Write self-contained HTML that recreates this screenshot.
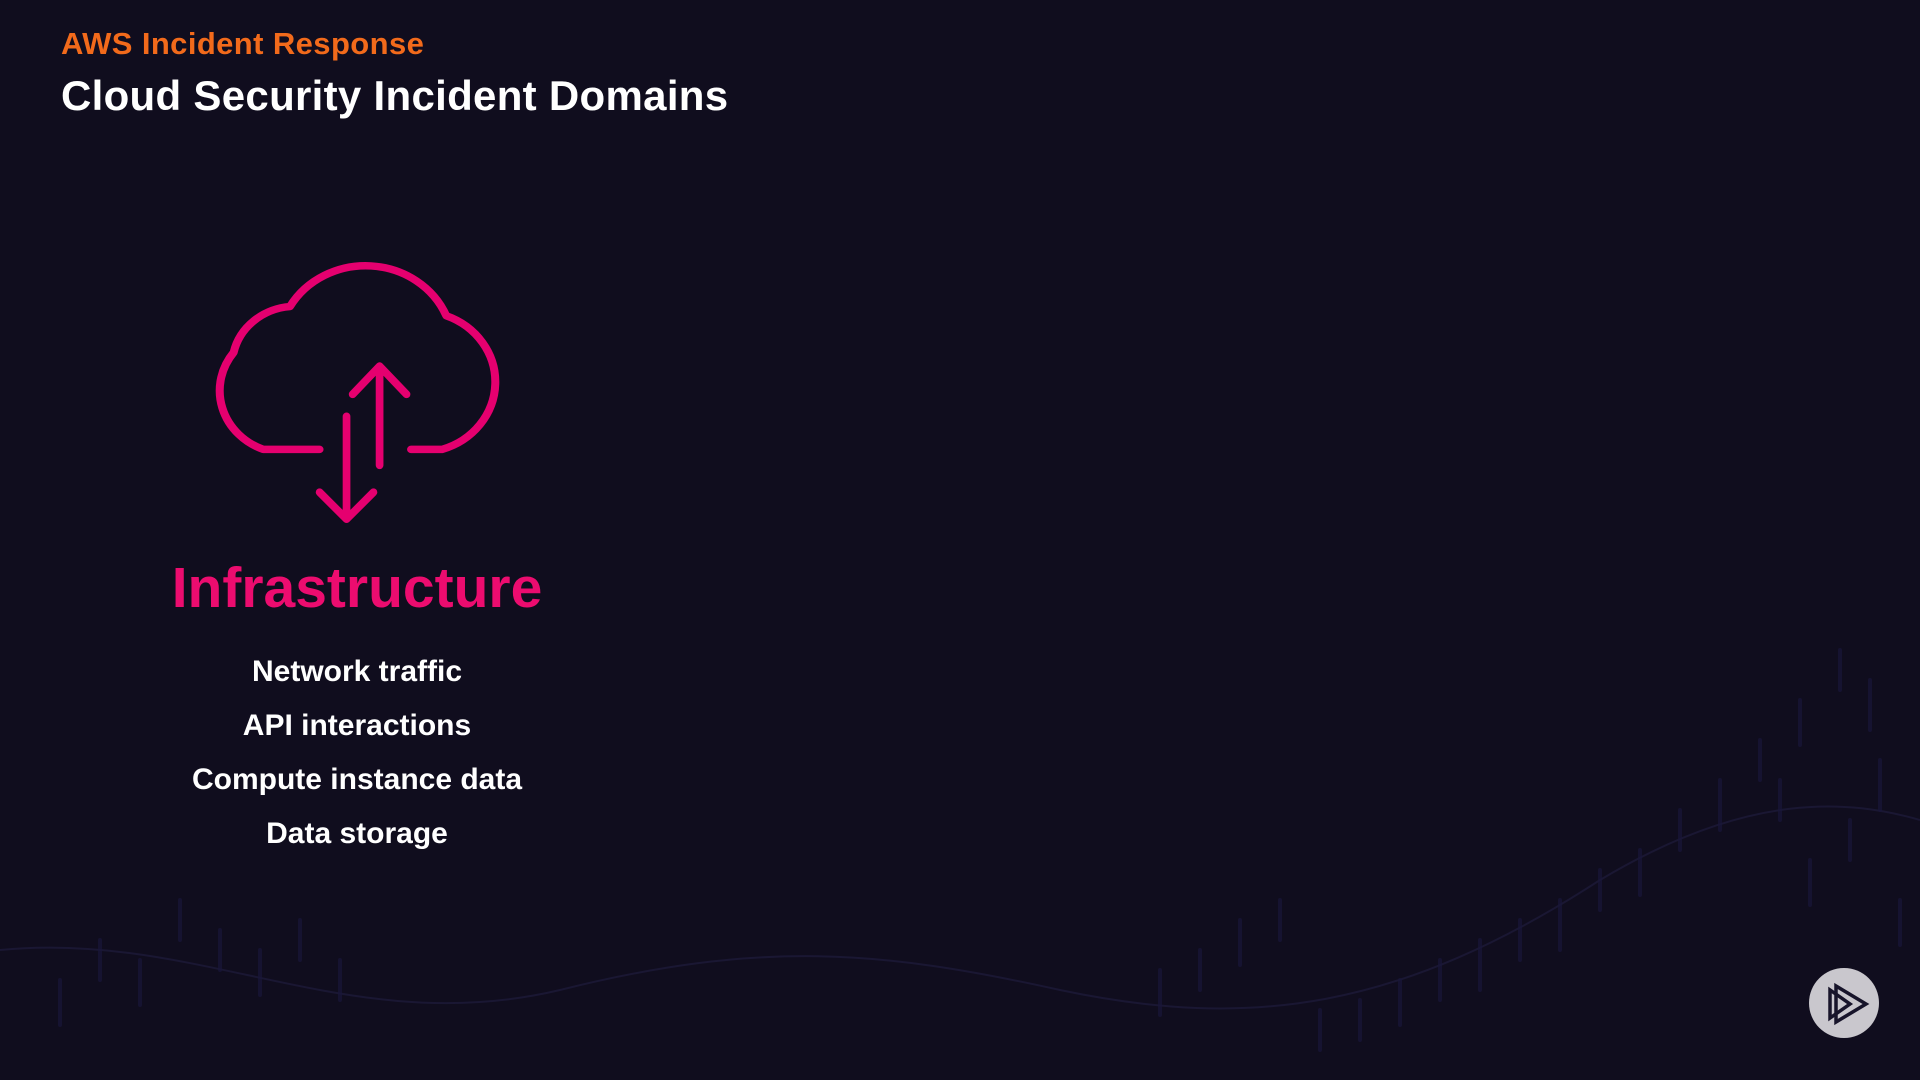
<!DOCTYPE html>
<html><head><meta charset="utf-8"><style>
html,body{margin:0;padding:0}
body{width:1920px;height:1080px;background:#100d1e;position:relative;overflow:hidden;font-family:"Liberation Sans",sans-serif}
.t{position:absolute;white-space:nowrap;font-weight:bold}
</style></head><body>
<svg width="1920" height="1080" style="position:absolute;left:0;top:0">
 <g fill="none" stroke="#1a1733" stroke-width="2">
  <path d="M0,950 C200,930 350,1040 560,990 C760,940 880,950 1060,990 C1250,1030 1400,1010 1600,880 C1750,790 1850,800 1920,820"/>
 </g>
 <g stroke="#19163a" stroke-width="4" stroke-linecap="round" opacity="0.7">
  <path d="M1840,650v40 M1870,680v50 M1800,700v45 M1760,740v40 M1720,780v50 M1680,810v40 M1640,850v45 M1600,870v40 M1560,900v50 M1520,920v40 M1480,940v50 M1440,960v40 M1400,980v45 M1360,1000v40 M1320,1010v40 M1280,900v40 M1240,920v45 M1200,950v40 M1160,970v45 M1880,760v50 M1850,820v40 M1810,860v45 M1780,780v40 M1900,900v45 M100,940v40 M140,960v45 M180,900v40 M220,930v40 M260,950v45 M300,920v40 M340,960v40 M60,980v45"/>
 </g>
 <g transform="scale(1.2245)" fill="none" stroke="#e5006f" stroke-width="6.3" stroke-linecap="round" stroke-linejoin="round">
  <path transform="translate(292,367) scale(1.15,1.07) translate(-292,-367)" stroke-width="5.7" d="M265,367 L225,367 A48,48 0 0 1 204,293 A45,45 0 0 1 244,258 A62,62 0 0 1 355,265 A54,54 0 0 1 352,367 L330,367"/>
  <path d="M310,380 V300 M288,322 L310,299 L332,322"/>
  <path d="M283,340 V423 M261,402 L283,424 L305,402"/>
 </g>
 <circle cx="1844" cy="1003" r="35" fill="#c9c7cd"/>
 <g fill="none" stroke="#17142a" stroke-width="3.5" stroke-linejoin="miter">
  <path d="M1830,990 V1018 L1850,1004 Z"/>
  <path d="M1836,986 V1022 L1866,1004 Z"/>
 </g>
</svg>
<div class="t" style="left:61px;top:26px;font-size:31px;letter-spacing:0.4px;color:#f26a1b">AWS Incident Response</div>
<div class="t" style="left:61px;top:72px;font-size:42px;letter-spacing:0.3px;color:#fff">Cloud Security Incident Domains</div>
<div class="t" style="left:357px;top:555px;transform:translateX(-50%);font-size:57px;color:#ec0c6f">Infrastructure</div>
<div class="t" style="left:357px;top:655px;transform:translateX(-50%);font-size:30px;color:#fff">Network traffic</div>
<div class="t" style="left:357px;top:709px;transform:translateX(-50%);font-size:30px;color:#fff">API interactions</div>
<div class="t" style="left:357px;top:763px;transform:translateX(-50%);font-size:30px;color:#fff">Compute instance data</div>
<div class="t" style="left:357px;top:817px;transform:translateX(-50%);font-size:30px;color:#fff">Data storage</div>
</body></html>
